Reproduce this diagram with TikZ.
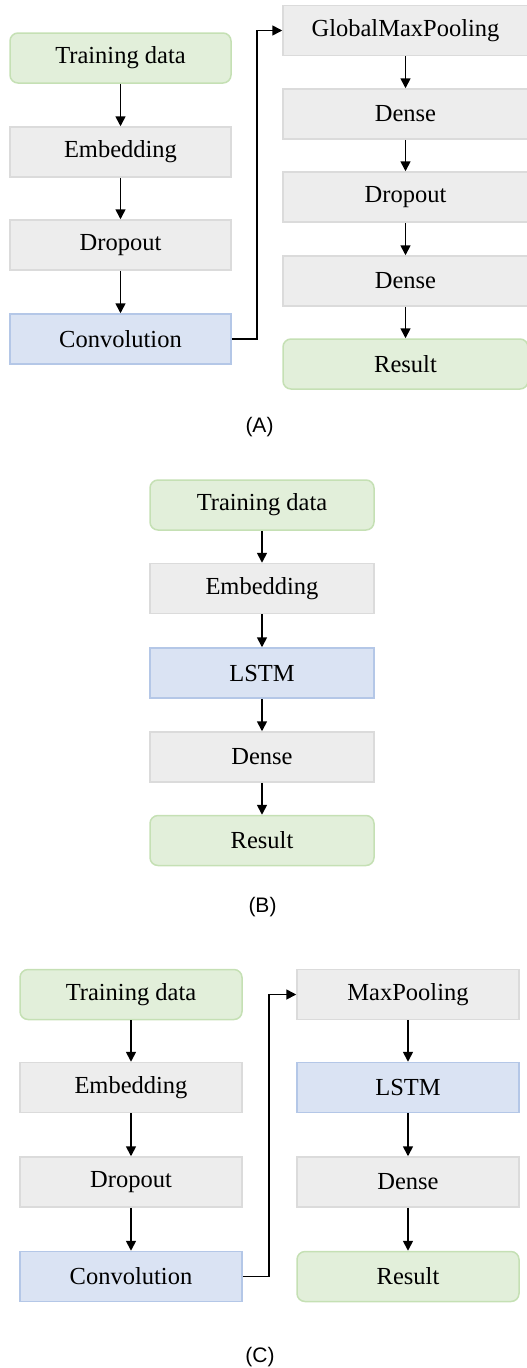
\documentclass[tikz,border=0pt]{standalone}
\usepackage{fontspec}
\setmainfont{Liberation Serif}
\newfontfamily\labfont{Liberation Sans}
\usetikzlibrary{arrows.meta}
\definecolor{gfill}{HTML}{E2EFDA}
\definecolor{gline}{HTML}{C5E0B4}
\definecolor{hfill}{HTML}{EDEDED}
\definecolor{hline}{HTML}{DBDBDB}
\definecolor{bfill}{HTML}{DAE3F3}
\definecolor{bline}{HTML}{B4C7E7}
\tikzset{
  box/.style={minimum height=50pt, inner sep=0pt, line width=1.5pt, font=\fontsize{24.5}{28}\selectfont},
  greenbox/.style={box, fill=gfill, draw=gline, rounded corners=8pt},
  graybox/.style={box, fill=hfill, draw=hline},
  bluebox/.style={box, fill=bfill, draw=bline},
  conn/.style={line width=1.7pt, -{Triangle[length=10pt,width=10pt]}},
  caption/.style={font=\labfont\fontsize{21}{24}\selectfont, inner sep=0pt}
}
\begin{document}
\begin{tikzpicture}
\useasboundingbox (0pt,0pt) rectangle (527pt,-1368pt);
% ---------------- Panel A ----------------
\begin{scope}[every node/.append style={minimum width=221pt}]
\node[greenbox] (a1) at (120.5pt,-58pt) {Training data};
\node[graybox] (a2) at (120.5pt,-152pt) {Embedding};
\node[graybox] (a3) at (120.5pt,-245pt) {Dropout};
\node[bluebox] (a4) at (120.5pt,-339pt) {Convolution};
\end{scope}
\begin{scope}[every node/.append style={minimum width=245pt}]
\node[graybox] (a5) at (405.5pt,-30.5pt) {GlobalMaxPooling};
\node[graybox] (a6) at (405.5pt,-114pt) {Dense};
\node[graybox] (a7) at (405.5pt,-197pt) {Dropout};
\node[graybox] (a8) at (405.5pt,-281pt) {Dense};
\node[greenbox] (a9) at (405.5pt,-364pt) {Result};
\end{scope}
\draw[conn] (a1) -- (a2);
\draw[conn] (a2) -- (a3);
\draw[conn] (a3) -- (a4);
\coordinate (aturn) at (257pt,-339pt);
\draw[conn] (a4.east) -- (aturn) |- (a5.west);
\draw[conn] (a5) -- (a6);
\draw[conn] (a6) -- (a7);
\draw[conn] (a7) -- (a8);
\draw[conn] (a8) -- (a9);
\node[caption] (capA) at (259.5pt,-427pt) {(A)};
% ---------------- Panel B ----------------
\begin{scope}[every node/.append style={minimum width=224pt}]
\node[greenbox] (b1) at (262pt,-505pt) {Training data};
\node[graybox] (b2) at (262pt,-588.5pt) {Embedding};
\node[bluebox] (b3) at (262pt,-673pt) {LSTM};
\node[graybox] (b4) at (262pt,-757pt) {Dense};
\node[greenbox] (b5) at (262pt,-840.5pt) {Result};
\end{scope}
\draw[conn] (b1) -- (b2);
\draw[conn] (b2) -- (b3);
\draw[conn] (b3) -- (b4);
\draw[conn] (b4) -- (b5);
\node[caption] (capB) at (262.5pt,-907pt) {(B)};
% ---------------- Panel C ----------------
\begin{scope}[every node/.append style={minimum width=222pt}]
\node[greenbox] (c1) at (131pt,-994.5pt) {Training data};
\node[graybox] (c2) at (131pt,-1087.5pt) {Embedding};
\node[graybox] (c3) at (131pt,-1182pt) {Dropout};
\node[bluebox] (c4) at (131pt,-1276.5pt) {Convolution};
\node[graybox] (c5) at (408pt,-994.5pt) {MaxPooling};
\node[bluebox] (c6) at (408pt,-1087.5pt) {LSTM};
\node[graybox] (c7) at (408pt,-1182pt) {Dense};
\node[greenbox] (c8) at (408pt,-1276.5pt) {Result};
\end{scope}
\draw[conn] (c1) -- (c2);
\draw[conn] (c2) -- (c3);
\draw[conn] (c3) -- (c4);
\coordinate (cturn) at (269pt,-1276.5pt);
\draw[conn] (c4.east) -- (cturn) |- (c5.west);
\draw[conn] (c5) -- (c6);
\draw[conn] (c6) -- (c7);
\draw[conn] (c7) -- (c8);
\node[caption] (capC) at (260pt,-1357pt) {(C)};
\end{tikzpicture}
\end{document}
